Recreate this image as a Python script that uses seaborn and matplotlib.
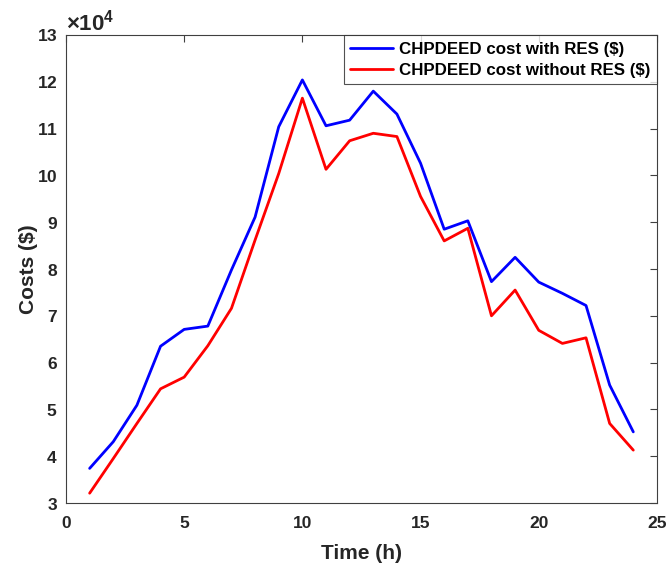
import matplotlib
matplotlib.use("Agg")
import matplotlib.pyplot as plt
import matplotlib.ticker as mticker
import seaborn as sns
import pandas as pd

hours = list(range(1, 25))
cost_with_res = [37400, 43100, 50900, 63500, 67100, 67800, 79800, 91100, 110400, 120400,
                 110600, 111800, 118000, 113100, 102600, 88500, 90300, 77300, 82500, 77200,
                 74800, 72200, 55200, 45200]
cost_without_res = [32100, 39500, 47000, 54400, 56900, 63600, 71600, 86200, 100400, 116500,
                    101300, 107400, 109000, 108300, 95500, 86000, 88700, 70000, 75500, 66900,
                    64100, 65300, 47000, 41300]
series_names = ["CHPDEED cost with RES ($)", "CHPDEED cost without RES ($)"]

df = pd.concat([
    pd.DataFrame({"Time": hours, "Cost": cost_with_res, "Series": series_names[0]}),
    pd.DataFrame({"Time": hours, "Cost": cost_without_res, "Series": series_names[1]}),
])

sns.set_theme(style="white")
plt.rcParams["font.family"] = ["Liberation Sans", "DejaVu Sans"]
plt.rcParams["font.weight"] = "bold"
plt.rcParams["axes.labelweight"] = "bold"
plt.rcParams["mathtext.fontset"] = "custom"
plt.rcParams["mathtext.rm"] = "Liberation Sans"
plt.rcParams["mathtext.it"] = "Liberation Sans:italic"
plt.rcParams["mathtext.bf"] = "Liberation Sans:bold"

fig = plt.figure(figsize=(6.7, 5.68), dpi=100)
ax = fig.add_axes([0.0985, 0.1144, 0.882, 0.824])

sns.lineplot(data=df, x="Time", y="Cost", hue="Series",
             palette={series_names[0]: "#0000FF", series_names[1]: "#FF0000"},
             linewidth=2, ax=ax)

ax.set_xlim(0, 25)
ax.set_ylim(30000, 130000)
ax.set_xticks([0, 5, 10, 15, 20, 25])
ax.set_yticks([30000 + 10000 * i for i in range(11)])
fmt = mticker.ScalarFormatter(useMathText=True)
fmt.set_powerlimits((4, 4))
ax.yaxis.set_major_formatter(fmt)
ax.yaxis.get_offset_text().set_fontsize(16)
ax.yaxis.get_offset_text().set_color("#262626")

ax.set_xlabel("Time (h)", fontsize=15, fontweight="bold", color="#262626", labelpad=10)
ax.set_ylabel("Costs ($)", fontsize=15, fontweight="bold", color="#262626", labelpad=-1)

axis_col = "#404040"
for s in ax.spines.values():
    s.set_visible(True)
    s.set_color(axis_col)
    s.set_linewidth(0.8)
ax.tick_params(axis="both", direction="in", length=5, width=0.8, color=axis_col,
               top=True, right=True, labelsize=12.5, labelcolor="#262626", pad=6)
ax.tick_params(axis="x", pad=9)
for lab in ax.get_xticklabels() + ax.get_yticklabels():
    lab.set_fontweight("bold")

leg = ax.legend(loc="upper right", fontsize=12.2, frameon=True, fancybox=False,
                borderaxespad=0, handlelength=2.5, handletextpad=0.35,
                borderpad=0.4, labelspacing=0.35, title=None)
leg.get_frame().set_edgecolor("#262626")
leg.get_frame().set_linewidth(0.8)
for t in leg.get_texts():
    t.set_fontweight("bold")
    t.set_color("black")

fig.savefig("out.png", dpi=100)
